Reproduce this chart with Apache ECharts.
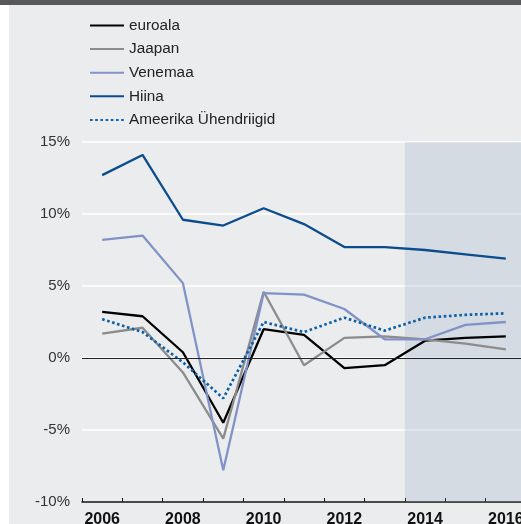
<!DOCTYPE html>
<html>
<head>
<meta charset="utf-8">
<script src="https://cdn.jsdelivr.net/npm/echarts@6/dist/echarts.min.js"></script>
<style>
html,body{margin:0;padding:0;background:#fff;overflow:hidden;}
#c{width:521px;height:524px;}
</style>
</head>
<body>
<div id="c"></div>
<script>
var years = ['2006','2007','2008','2009','2010','2011','2012','2013','2014','2015','2016'];
var euroala = [3.2, 2.9, 0.4, -4.5, 2.0, 1.6, -0.7, -0.5, 1.2, 1.4, 1.5];
var jaapan = [1.7, 2.1, -1.0, -5.6, 4.6, -0.5, 1.4, 1.5, 1.3, 1.0, 0.6];
var venemaa = [8.2, 8.5, 5.2, -7.8, 4.5, 4.4, 3.4, 1.3, 1.3, 2.3, 2.5];
var hiina = [12.7, 14.1, 9.6, 9.2, 10.4, 9.3, 7.7, 7.7, 7.5, 7.2, 6.9];
var usa = [2.7, 1.8, -0.3, -2.8, 2.5, 1.8, 2.8, 1.9, 2.8, 3.0, 3.1];
var seriesNames = ['euroala', 'Jaapan', 'Venemaa', 'Hiina', 'Ameerika Ühendriigid'];
var forecastStart = 7.5; // boundary between 2013 and 2014 (category index)
var forecastEnd = 10.5;

var font = '"Liberation Sans", Arial, Helvetica, sans-serif';
var chart = echarts.init(document.getElementById('c'), null, {renderer: 'canvas', width: 521, height: 524});

function lineSeries(name, data, color, type, width) {
  return {
    name: name, type: 'line', data: data, xAxisIndex: 0, yAxisIndex: 0,
    symbol: 'none', showSymbol: false, smooth: false, animation: false, z: 3,
    lineStyle: {color: color, width: width || 2, type: type || 'solid'},
    itemStyle: {color: color}
  };
}

var usaSeries = lineSeries(seriesNames[4], usa, '#0d5fa6', [2.6, 2.6], 2.7);
usaSeries.lineStyle.cap = 'butt';

var option = {
  backgroundColor: '#ebeced',
  animation: false,
  textStyle: {fontFamily: font},
  graphic: [
    {type: 'rect', left: 0, top: 0, shape: {width: 9, height: 524}, style: {fill: '#ffffff'}, z: 100},
    {type: 'rect', left: 0, top: 0, shape: {width: 521, height: 5}, style: {fill: '#58585a'}, z: 101}
  ],
  legend: {
    data: seriesNames,
    orient: 'vertical',
    left: 89, top: 18,
    padding: 0,
    itemWidth: 34, itemHeight: 15, itemGap: 8.6,
    itemStyle: {opacity: 0},
    textStyle: {fontFamily: font, fontSize: 15.3, color: '#222'},
    selectedMode: false
  },
  grid: {left: 82, top: 142, width: 444, height: 360, containLabel: false, outerBoundsMode: 'none'},
  xAxis: [
    {
      type: 'category', data: years, boundaryGap: true,
      axisLine: {show: true, onZero: false, lineStyle: {color: '#111', width: 1.5}},
      axisTick: {show: true, inside: true, length: 4, interval: 0, lineStyle: {color: '#111', width: 1}},
      axisLabel: {interval: 1, fontFamily: font, fontSize: 16, fontWeight: 'bold', color: '#111', margin: 10},
      splitLine: {show: false}
    },
    {
      type: 'value', min: -0.5, max: 10.5, show: false
    }
  ],
  yAxis: {
    type: 'value', min: -10, max: 15, interval: 5,
    axisLine: {show: false}, axisTick: {show: false},
    axisLabel: {formatter: '{value}%', fontFamily: font, fontSize: 15, color: '#333', margin: 12},
    splitLine: {show: true, lineStyle: {color: '#ffffff', width: 1.5}}
  },
  series: [
    {
      name: 'forecast', type: 'line', xAxisIndex: 1, yAxisIndex: 0,
      data: [], symbol: 'none', silent: true, z: 1,
      markArea: {
        silent: true,
        itemStyle: {color: 'rgba(130,155,185,0.21)'},
        data: [[{coord: [forecastStart, 15]}, {coord: [forecastEnd, -10]}]]
      },
      markLine: {
        silent: true, symbol: 'none', label: {show: false},
        lineStyle: {color: '#222', width: 1, type: 'solid'},
        data: [{yAxis: 0}]
      }
    },
    lineSeries(seriesNames[0], euroala, '#000000', 'solid', 2.3),
    lineSeries(seriesNames[1], jaapan, '#8c8c8c', 'solid', 2.3),
    lineSeries(seriesNames[2], venemaa, '#8193c6', 'solid', 2.3),
    lineSeries(seriesNames[3], hiina, '#0b4c8c', 'solid', 2.3),
    usaSeries
  ]
};
chart.setOption(option);
</script>
</body>
</html>
